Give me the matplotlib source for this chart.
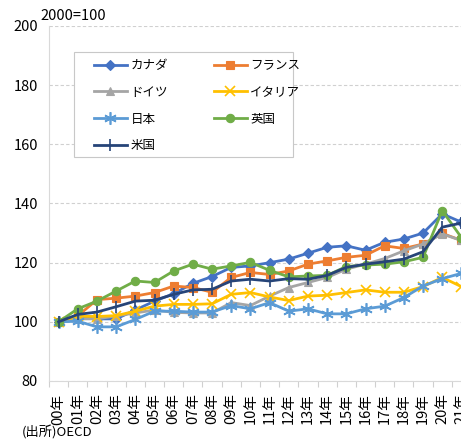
import matplotlib
matplotlib.use("Agg")
import numpy as np
from matplotlib import pyplot as plt
from matplotlib.patches import Rectangle
from matplotlib.ticker import FixedLocator

plt.rcParams['font.family'] = ['Noto Sans CJK JP', 'DejaVu Sans']

years = [f"{i:02d}年" for i in range(22)]

canada = [100, 101.5, 101.0, 101.0, 104.0, 107.0, 109.5, 113.0, 115.3, 118.4, 118.9, 120.0,
          121.2, 123.2, 125.2, 125.7, 124.2, 126.9, 128.0, 130.0, 136.5, 133.7]
france = [100, 102.0, 107.5, 108.0, 108.7, 109.9, 112.1, 111.6, 110.0, 115.0, 116.7, 116.0,
          117.2, 119.5, 120.6, 121.8, 122.5, 125.7, 124.8, 126.3, 129.9, 127.5]
germany = [100, 101.0, 101.0, 102.0, 103.0, 104.0, 103.2, 103.0, 103.0, 106.5, 105.5, 108.7,
           111.6, 113.3, 115.0, 117.8, 119.5, 121.4, 124.0, 126.3, 129.7, 127.5]
italy = [100, 101.9, 101.8, 102.1, 103.6, 105.3, 105.9, 105.9, 106.1, 109.3, 109.9, 108.4,
         107.2, 108.7, 109.0, 109.9, 110.8, 110.0, 110.0, 111.9, 115.0, 111.9]
japan = [100, 100.2, 98.3, 98.3, 100.8, 103.6, 103.6, 103.3, 103.3, 105.5, 104.4, 106.5,
         103.6, 104.4, 102.7, 102.7, 104.4, 105.3, 108.2, 112.1, 114.6, 116.4]
uk = [100, 104.4, 107.0, 110.4, 113.8, 113.3, 117.2, 119.5, 117.8, 118.9, 120.1, 117.4,
      115.2, 115.5, 115.7, 118.7, 119.2, 119.5, 120.3, 121.8, 137.6, 128.5]
us = [100, 102.5, 103.3, 105.1, 107.0, 107.3, 109.3, 110.8, 111.0, 113.8, 114.4, 113.8,
      114.6, 114.4, 115.7, 118.4, 119.5, 120.3, 121.2, 123.7, 132.0, 133.4]

series = [
    ("カナダ", canada, "#4472C4", "D", 5),
    ("フランス", france, "#ED7D31", "s", 6),
    ("ドイツ", germany, "#A5A5A5", "^", 6),
    ("イタリア", italy, "#FFC000", "x", 7),
    ("日本", japan, "#5B9BD5", (6, 2, 0), 9),
    ("英国", uk, "#70AD47", "o", 6),
    ("米国", us, "#264478", "|", 9),
]

fig = plt.figure(figsize=(4.61, 4.45), dpi=100)
# axes runs a little past the right edge of the figure
ax = fig.add_axes([49 / 461, 64 / 445, 422 / 461, 355 / 445])

x = np.arange(len(years))
lines = []
for name, vals, color, marker, ms in series:
    thin = marker in ("x", "|") or isinstance(marker, tuple)
    ln, = ax.plot(x, vals, color=color, lw=2.0, marker=marker, markersize=ms,
                  markeredgewidth=1.2 if thin else 0.8,
                  markeredgecolor=color, markerfacecolor=color, label=name)
    lines.append(ln)

ax.set_ylim(80, 200)
ax.set_xlim(-0.5, len(years) - 0.5)
ax.set_yticks(range(80, 201, 20))
ax.yaxis.grid(True, color="#D0D0D0", linestyle=(0, (3, 2)), lw=0.8)
ax.set_axisbelow(True)

ax.set_xticks(x)
ax.set_xticklabels(years, rotation=90, fontsize=10.5)
ax.xaxis.set_minor_locator(FixedLocator(np.arange(-0.5, len(years), 1)))
ax.tick_params(axis="x", which="major", length=0, pad=9)
ax.tick_params(axis="x", which="minor", length=4, color="#D0D0D0", width=0.8)
ax.tick_params(axis="y", length=0, labelsize=10.5, pad=8)

for s in ("top", "right"):
    ax.spines[s].set_visible(False)
ax.spines["left"].set_color("#D9D9D9")
ax.spines["bottom"].set_color("#D9D9D9")

fig.text(40 / 461, 1 - 23 / 445, "2000=100", fontsize=10.5, ha="left", va="bottom")

# legend box drawn separately so the padding can be set freely
box = Rectangle((0.0592, 0.631), 0.519, 0.297, transform=ax.transAxes,
                facecolor="white", edgecolor="#C8C8C8", lw=0.8, zorder=4)
ax.add_patch(box)

# legend filled row by row: reorder for matplotlib's column-first layout
order = [0, 2, 4, 6, 1, 3, 5]
leg = ax.legend([lines[i] for i in order], [series[i][0] for i in order],
                ncol=2, loc="upper left", bbox_to_anchor=(0.107, 0.907),
                borderaxespad=0, borderpad=0, fontsize=9, frameon=False,
                handlelength=2.6, handletextpad=0.3,
                columnspacing=3.7, labelspacing=1.1)
leg.set_zorder(5)

fig.text(22 / 461, 5 / 445, "(出所)OECD", fontsize=9.5, ha="left", va="bottom")

fig.savefig("out.png", dpi=100)
